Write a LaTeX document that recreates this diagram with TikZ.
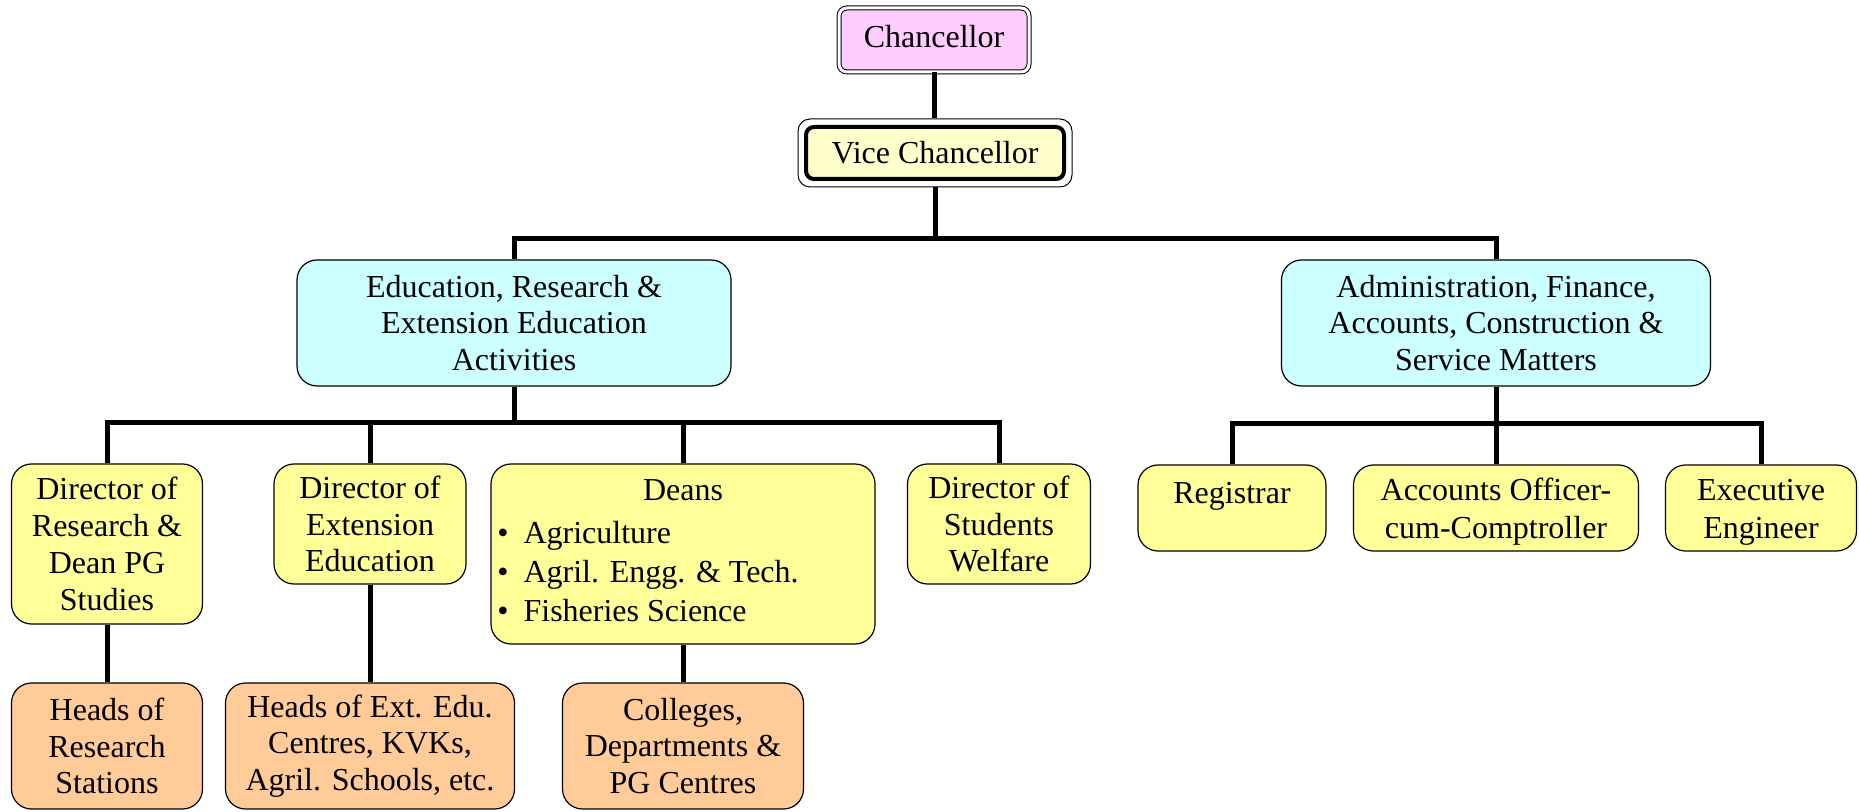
\documentclass[tikz,border=0pt]{standalone}
\usepackage{fontspec}
\setmainfont{Liberation Serif}
\definecolor{chanpink}{RGB}{255,204,255}
\definecolor{vcyellow}{RGB}{255,255,204}
\definecolor{educyan}{RGB}{204,255,255}
\definecolor{boxyellow}{RGB}{255,255,153}
\definecolor{boxorange}{RGB}{255,204,153}
\newcommand{\lowerit}[1]{\raisebox{-2pt}[\height][\depth]{#1}}
\begin{document}
\begin{tikzpicture}[x=0.5pt,y=-0.5pt,
  txt/.style={font=\fontsize{16}{18.4}\selectfont},
  box/.style={draw=black, line width=0.6pt, rounded corners=10pt, align=center,
    inner sep=0pt, txt},
  midbox/.style={box, fill=educyan, minimum height=63pt},
  lvlbox/.style={box, fill=boxyellow},
  lowbox/.style={box, fill=boxorange, minimum height=63pt},
  conn/.style={draw=black, line width=2.5pt}]
\useasboundingbox (0,0) rectangle (1859,812);

% top
\node[draw=black, line width=0.5pt, double=white, double distance=1.5pt,
  fill=chanpink, rounded corners=4pt, minimum width=95pt, minimum height=32pt,
  inner sep=0pt, txt] (chan) at (934,40) {\raisebox{1.8pt}[\height][\depth]{Chancellor}};
\node[draw=black, line width=2pt, fill=vcyellow, rounded corners=4pt,
  minimum width=129pt, minimum height=26pt, inner sep=0pt, txt] (vc) at (935,153) {Vice Chancellor};
\node[draw=black, line width=0.5pt, rounded corners=6pt, minimum width=137pt,
  minimum height=34pt, inner sep=0pt] (vcout) at (935,153) {};

% second level
\node[midbox, minimum width=217pt] (edu) at (514,323)
  {Education, Research \&\\ Extension Education\\ Activities};
\node[midbox, minimum width=214.5pt] (admin) at (1496,323)
  {Administration, Finance,\\ Accounts, Construction \&\\ Service Matters};

% third level, left
\node[lvlbox, minimum width=95.5pt, minimum height=80pt] (dres) at (107,544)
  {Director of\\ Research \&\\ Dean PG\\ Studies};
\node[lvlbox, minimum width=96pt, minimum height=60pt] (dext) at (370,524)
  {Director of\\ Extension\\ Education};
\node[lvlbox, minimum width=192pt, minimum height=90pt] (deans) at (683,554) {};
\node[txt] (deanshead) at (683,490) {Deans};
\node[anchor=west, align=left, inner sep=0pt, font=\fontsize{16}{19.5}\selectfont]
  (deanslist) at (497,572)
  {\textbullet\hspace{7.5pt}Agriculture\\ \textbullet\hspace{7.5pt}Agril. Engg. \& Tech.\\ \textbullet\hspace{7.5pt}Fisheries Science};
\node[lvlbox, minimum width=91.5pt, minimum height=60pt] (dsw) at (999,524)
  {Director of\\ Students\\ Welfare};

% third level, right
\node[lvlbox, minimum width=94pt, minimum height=43pt,
  font=\fontsize{16}{19}\selectfont] (reg) at (1232,508)
  {\lowerit{Registrar}\\ \mbox{}};
\node[lvlbox, minimum width=142.5pt, minimum height=43pt,
  font=\fontsize{16}{19}\selectfont] (acc) at (1496,508)
  {\lowerit{Accounts Officer-}\\ \lowerit{cum-Comptroller}};
\node[lvlbox, minimum width=95.5pt, minimum height=43pt,
  font=\fontsize{16}{19}\selectfont] (exe) at (1761,508)
  {\lowerit{Executive}\\ \lowerit{Engineer}};

% fourth level
\node[lowbox, minimum width=95.5pt] (hrs) at (107,746)
  {Heads of\\ Research\\ Stations};
\node[lowbox, minimum width=144.5pt] (hext) at (370,746)
  {Heads of Ext. Edu.\\ Centres, KVKs,\\ Agril. Schools, etc.};
\node[lowbox, minimum width=120.5pt] (col) at (683,746)
  {Colleges,\\ Departments \&\\ PG Centres};

% bus coordinates
\coordinate (b1) at (0,239);
\coordinate (b2) at (0,423);
\coordinate (b3) at (0,424);

% connectors
\draw[conn] (chan.south) -- (chan.south |- vcout.north);
\draw[conn] (vcout.south) -- (vcout.south |- b1);
\draw[conn] (edu.north) -- (edu.north |- b1) -- (admin.north |- b1) -- (admin.north);

\draw[conn] (edu.south) -- (edu.south |- b2);
\draw[conn] (dres.north) -- (dres.north |- b2) -- (dsw.north |- b2) -- (dsw.north);
\draw[conn] (dext.north) -- (dext.north |- b2);
\draw[conn] (deans.north) -- (deans.north |- b2);

\draw[conn] (admin.south) -- (admin.south |- b3);
\draw[conn] (reg.north) -- (reg.north |- b3) -- (exe.north |- b3) -- (exe.north);
\draw[conn] (acc.north) -- (acc.north |- b3);

\draw[conn] (dres.south) -- (hrs.north);
\draw[conn] (dext.south) -- (hext.north);
\draw[conn] (deans.south) -- (col.north);
\end{tikzpicture}
\end{document}
